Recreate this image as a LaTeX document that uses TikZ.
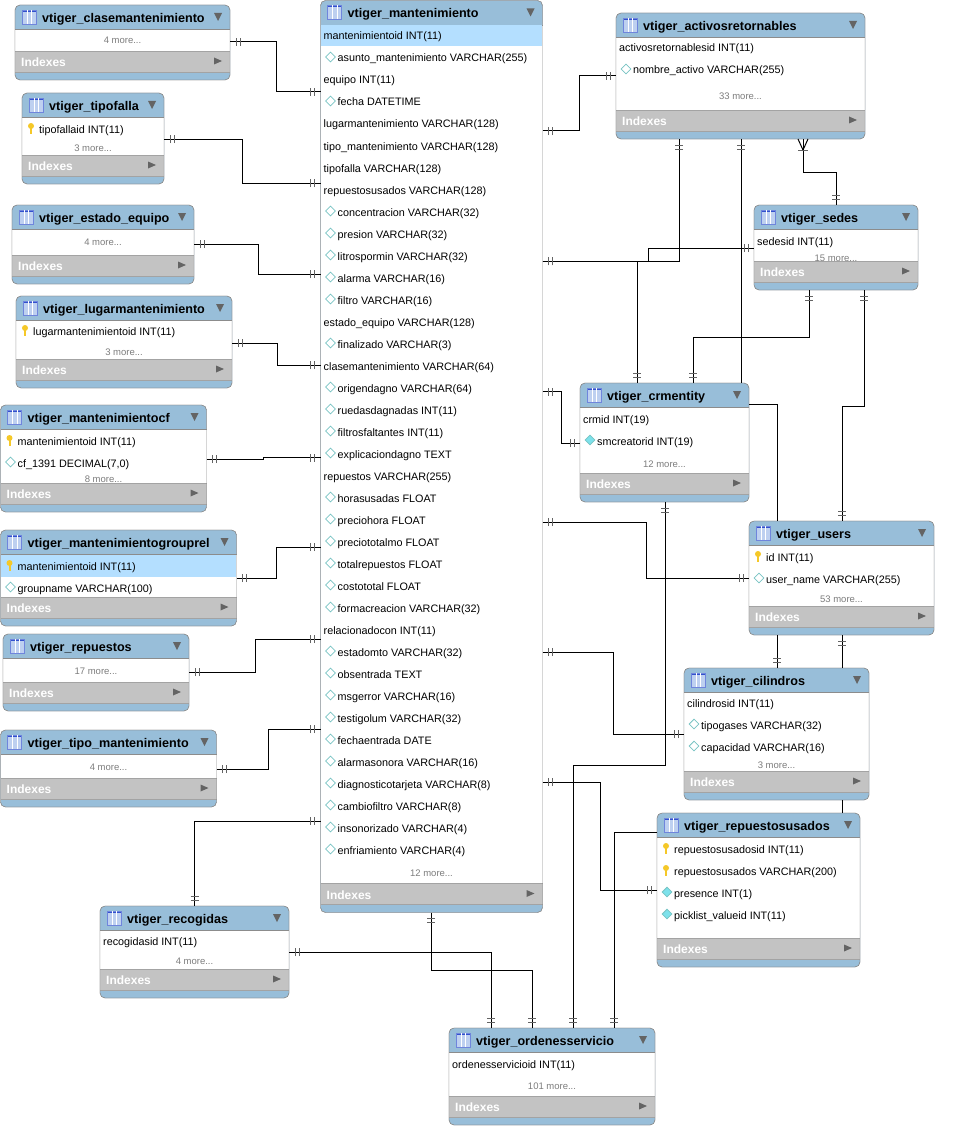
\documentclass[tikz,border=0pt]{standalone}
\usepackage{xcolor}
\usepackage{tikz}
\usepackage{fontspec}
\setmainfont{Liberation Sans}
\usetikzlibrary{shapes.geometric}
\usetikzlibrary{decorations.markings}
\definecolor{headblue} {RGB} {152, 190, 217}
\definecolor{bandgrey} {RGB} {195, 195, 195}
\definecolor{rowblue} {RGB} {180, 223, 255}
\definecolor{framegrey} {RGB} {140, 140, 140}
\definecolor{trigrey} {RGB} {100, 100, 100}
\definecolor{moregrey} {RGB} {125, 125, 125}
\definecolor{iconblue} {RGB} {50, 80, 205}
\definecolor{iconpale} {RGB} {190, 208, 240}
\definecolor{keygold} {RGB} {245, 200, 40}
\definecolor{diamline} {RGB} {120, 195, 195}
\definecolor{diamfill} {RGB} {125, 225, 235}
\tikzstyle{tablebox}=[draw=framegrey,fill=headblue,rounded corners=5pt,anchor=north west,inner sep=0pt,outer sep=0pt]
\tikzstyle{tabletitle}=[anchor=west,inner sep=0pt,text height=9pt,text depth=3pt,font=\fontsize{12.6}{14}\selectfont\bfseries]
\tikzstyle{fieldtext}=[anchor=west,inner sep=0pt,text height=8pt,text depth=2.4pt,font=\fontsize{10.8}{13}\selectfont]
\tikzstyle{moretext}=[inner sep=0pt,text height=7pt,text depth=0pt,text=moregrey,font=\fontsize{9.5}{12}\selectfont]
\tikzstyle{indexlabel}=[anchor=west,inner sep=0pt,text height=9pt,text depth=0pt,text=white,font=\fontsize{12}{13}\selectfont\bfseries]
\tikzstyle{plaindiam}=[diamond,draw=diamline,fill=white,line width=0.8pt,inner sep=0pt,minimum size=10pt]
\tikzstyle{fkdiam}=[diamond,draw=diamline,fill=diamfill,line width=0.8pt,inner sep=0pt,minimum size=10pt]
\tikzstyle{rel}=[line width=1pt,black]
\tikzstyle{tickline}=[line width=1pt,trigrey]
\tikzset{
  barstart/.style={rel,postaction={decorate,decoration={markings,
    mark=at position 6pt with {\draw[tickline] (0pt,-4pt) -- (0pt,4pt);},
    mark=at position 10pt with {\draw[tickline] (0pt,-4pt) -- (0pt,4pt);}}}},
  barend/.style={rel,postaction={decorate,decoration={markings,
    mark=at position -10pt with {\draw[tickline] (0pt,-4pt) -- (0pt,4pt);},
    mark=at position -6pt with {\draw[tickline] (0pt,-4pt) -- (0pt,4pt);}}}},
  crowstart/.style={rel,postaction={decorate,decoration={markings,
    mark=at position 11pt with {\draw[tickline] (0pt,-5pt) -- (0pt,5pt);
      \draw[rel] (0pt,0pt) -- (-11pt,-5pt); \draw[rel] (0pt,0pt) -- (-11pt,5pt);}}}}
}
\newcommand{\erbox}[6]{
  \node[tablebox,minimum width=#4pt,minimum height=#5pt] (#1) at (#2,#3) {};
  \fill[white] ([yshift=-24.5pt]#1.north west) rectangle ([yshift=29pt]#1.south east);
  \fill[bandgrey] ([yshift=29pt]#1.south west) rectangle ([yshift=8pt]#1.south east);
  \draw[framegrey] ([yshift=-24.5pt]#1.north west) -- ([yshift=-24.5pt]#1.north east);
  \draw[framegrey!80] ([yshift=29pt]#1.south west) -- ([yshift=29pt]#1.south east);
  \draw[framegrey!80] ([yshift=8pt]#1.south west) -- ([yshift=8pt]#1.south east);
  \draw[framegrey,rounded corners=5pt] (#1.north west) rectangle (#1.south east);
  \coordinate (#1-icon) at ([xshift=7pt,yshift=-5pt]#1.north west);
  \fill[iconpale] (#1-icon) rectangle ++(14,14);
  \fill[iconblue] (#1-icon) rectangle ++(14,2);
  \draw[iconblue!70!white,line width=0.5pt] (#1-icon) rectangle ++(14,14);
  \draw[white,line width=0.7pt] ([xshift=5pt]#1-icon) -- ++(0,14) ([xshift=9.5pt]#1-icon) -- ++(0,14);
  \node[tabletitle] (#1-title) at ([xshift=27pt,yshift=-14.5pt]#1.north west) {#6};
  \fill[trigrey] ([xshift=-16pt,yshift=-8pt]#1.north east) -- ++(8,0) -- ++(-4,8) -- cycle;
  \node[indexlabel] (#1-idx) at ([xshift=6pt,yshift=18pt]#1.south west) {Indexes};
  \fill[trigrey] ([xshift=-16pt,yshift=22.5pt]#1.south east) -- ++(8,3.5) -- ++(-8,3.5) -- cycle;
}
\newcommand{\iconnone}[2]{\def\fieldx{3pt}}
\newcommand{\icondiam}[2]{\def\fieldx{17pt}
  \node[plaindiam] (#2) at ([xshift=10pt,yshift=1pt]#1) {};}
\newcommand{\iconfk}[2]{\def\fieldx{17pt}
  \node[fkdiam] (#2) at ([xshift=10pt,yshift=1pt]#1) {};}
\newcommand{\iconkey}[2]{\def\fieldx{17pt}
  \fill[keygold] ([xshift=9pt,yshift=3pt]#1) circle (3pt);
  \fill[keygold] ([xshift=8pt,yshift=4pt]#1) rectangle ++(2,9);}
\newcommand{\erfield}[5]{
  \coordinate (#1-p#2) at (#1.west |- 0,#4);
  \csname icon#3\endcsname{#1-p#2}{#1-d#2}
  \node[fieldtext] (#1-f#2) at ([xshift=\fieldx,yshift=-1.2pt]#1-p#2) {#5};
}
\newcommand{\ermore}[3]{
  \node[moretext] (#1-more) at ([yshift=-1pt]#1.center |- 0,#2) {#3};
}
\newcommand{\hlrow}[3]{
  \fill[rowblue] ([xshift=0.5pt]#1.west |- 0,#2) rectangle ([xshift=-0.5pt]#1.east |- 0,#3);
}

\begin{document}
\begin{tikzpicture}[x=1pt,y=-1pt]
  \fill[white] (0,0) rectangle (954,1145);
  \useasboundingbox (0,0) rectangle (954,1145);
  \erbox{clase}{15}{5}{215}{75}{vtiger\_clasemantenimiento}
  \ermore{clase}{39}{4 more...}
  \erbox{falla}{22}{93}{142}{91}{vtiger\_tipofalla}
  \erfield{falla}{1}{key}{129}{tipofallaid INT(11)}
  \ermore{falla}{147}{3 more...}
  \erbox{estado}{12}{205}{182}{79}{vtiger\_estado\_equipo}
  \ermore{estado}{241}{4 more...}
  \erbox{lugar}{16}{296}{216}{92}{vtiger\_lugarmantenimiento}
  \erfield{lugar}{1}{key}{331}{lugarmantenimientoid INT(11)}
  \ermore{lugar}{351}{3 more...}
  \erbox{mantcf}{0.5}{405}{206}{107}{vtiger\_mantenimientocf}
  \erfield{mantcf}{1}{key}{441}{mantenimientoid INT(11)}
  \erfield{mantcf}{2}{diam}{463}{cf\_1391 DECIMAL(7,0)}
  \ermore{mantcf}{478}{8 more...}
  \erbox{group}{0.5}{530}{236}{96}{vtiger\_mantenimientogrouprel}
  \hlrow{group}{555}{577}
  \erfield{group}{1}{key}{566}{mantenimientoid INT(11)}
  \erfield{group}{2}{diam}{588}{groupname VARCHAR(100)}
  \erbox{repu}{3}{634}{186}{77}{vtiger\_repuestos}
  \ermore{repu}{670}{17 more...}
  \erbox{tipoman}{0.5}{730}{216}{77}{vtiger\_tipo\_mantenimiento}
  \ermore{tipoman}{766}{4 more...}
  \erbox{recog}{100}{906}{189}{92}{vtiger\_recogidas}
  \erfield{recog}{1}{none}{941}{recogidasid INT(11)}
  \ermore{recog}{960}{4 more...}
  \erbox{mant}{320.5}{0.5}{222}{912}{vtiger\_mantenimiento}
  \hlrow{mant}{25}{46}
  \foreach \kind/\txt [count=\i] in {
    none/mantenimientoid INT(11), diam/asunto\_mantenimiento VARCHAR(255),
    none/equipo INT(11), diam/fecha DATETIME,
    none/lugarmantenimiento VARCHAR(128), none/tipo\_mantenimiento VARCHAR(128),
    none/tipofalla VARCHAR(128), none/repuestosusados VARCHAR(128),
    diam/concentracion VARCHAR(32), diam/presion VARCHAR(32),
    diam/litrospormin VARCHAR(32), diam/alarma VARCHAR(16),
    diam/filtro VARCHAR(16), none/estado\_equipo VARCHAR(128),
    diam/finalizado VARCHAR(3), none/clasemantenimiento VARCHAR(64),
    diam/origendagno VARCHAR(64), diam/ruedasdagnadas INT(11),
    diam/filtrosfaltantes INT(11), diam/explicaciondagno TEXT,
    none/repuestos VARCHAR(255), diam/horasusadas FLOAT,
    diam/preciohora FLOAT, diam/preciototalmo FLOAT,
    diam/totalrepuestos FLOAT, diam/costototal FLOAT,
    diam/formacreacion VARCHAR(32), none/relacionadocon INT(11),
    diam/estadomto VARCHAR(32), diam/obsentrada TEXT,
    diam/msgerror VARCHAR(16), diam/testigolum VARCHAR(32),
    diam/fechaentrada DATE, diam/alarmasonora VARCHAR(16),
    diam/diagnosticotarjeta VARCHAR(8), diam/cambiofiltro VARCHAR(8),
    diam/insonorizado VARCHAR(4), diam/enfriamiento VARCHAR(4)}
  {
    \pgfmathsetmacro{\fy}{14+22*\i}
    \erfield{mant}{\i}{\kind}{\fy}{\txt}
  }
  \ermore{mant}{872}{12 more...}
  \erbox{activos}{616}{13}{249}{126}{vtiger\_activosretornables}
  \erfield{activos}{1}{none}{48}{activosretornablesid INT(11)}
  \erfield{activos}{2}{diam}{70}{nombre\_activo VARCHAR(255)}
  \ermore{activos}{95}{33 more...}
  \erbox{sedes}{754}{205}{164}{85}{vtiger\_sedes}
  \erfield{sedes}{1}{none}{241}{sedesid INT(11)}
  \ermore{sedes}{257}{15 more...}
  \erbox{crm}{580}{383}{169}{119}{vtiger\_crmentity}
  \erfield{crm}{1}{none}{419}{crmid INT(19)}
  \erfield{crm}{2}{fk}{441}{smcreatorid INT(19)}
  \ermore{crm}{463}{12 more...}
  \erbox{users}{749}{521}{185}{114}{vtiger\_users}
  \erfield{users}{1}{key}{557}{id INT(11)}
  \erfield{users}{2}{diam}{579}{user\_name VARCHAR(255)}
  \ermore{users}{598}{53 more...}
  \erbox{cilin}{684}{668}{185}{132}{vtiger\_cilindros}
  \erfield{cilin}{1}{none}{703}{cilindrosid INT(11)}
  \erfield{cilin}{2}{diam}{725}{tipogases VARCHAR(32)}
  \erfield{cilin}{3}{diam}{747}{capacidad VARCHAR(16)}
  \ermore{cilin}{764}{3 more...}
  \erbox{usados}{657}{813}{203}{154}{vtiger\_repuestosusados}
  \erfield{usados}{1}{key}{849}{repuestosusadosid INT(11)}
  \erfield{usados}{2}{key}{871}{repuestosusados VARCHAR(200)}
  \erfield{usados}{3}{fk}{893}{presence INT(1)}
  \erfield{usados}{4}{fk}{915}{picklist\_valueid INT(11)}
  \erbox{orden}{449}{1028}{206}{97}{vtiger\_ordenesservicio}
  \erfield{orden}{1}{none}{1064}{ordenesservicioid INT(11)}
  \ermore{orden}{1085}{101 more...}
  \draw[barstart,barend] (clase.east |- 0,42) -| (276,92) -- (mant.west |- 0,92);
  \draw[barstart,barend] (falla.east |- 0,139) -| (242,183) -- (mant.west |- 0,183);
  \draw[barstart,barend] (estado.east |- 0,244) -| (258,274) -- (mant.west |- 0,274);
  \draw[barstart,barend] (lugar.east |- 0,343) -| (277,365) -- (mant.west |- 0,365);
  \draw[barstart,barend] (mantcf.east |- 0,459) -| (263,457.5) -- (mant.west |- 0,457.5);
  \draw[barstart,barend] (group.east |- 0,578) -| (276,547) -- (mant.west |- 0,547);
  \draw[barstart,barend] (repu.east |- 0,672) -| (255,639) -- (mant.west |- 0,639);
  \draw[barstart,barend] (tipoman.east |- 0,769) -| (268,729) -- (mant.west |- 0,729);
  \draw[barstart,barend] (mant.west |- 0,821) -| (195,906 -| recog.north);
  \draw[barstart,barend] (mant.east |- 0,131) -| (579,76) -- (activos.west |- 0,76);
  \draw[barstart,barend] (mant.east |- 0,261) -| (679,0 |- activos.south);
  \draw[barstart,barend] (mant.east |- 0,261) -| (637,0 |- crm.north);
  \draw[barstart,barend] (mant.east |- 0,261) -| (648,248) -- (sedes.west |- 0,248);
  \draw[barstart] (741,0 |- activos.south) -- (741,0 |- crm.north);
  \draw[crowstart,barend] (803,0 |- activos.south) |- (836,172) -- (836,0 |- sedes.north);
  \draw[barstart,barend] (809,0 |- sedes.south) |- (693,337) -- (693,0 |- crm.north);
  \draw[barstart,barend] (864,0 |- sedes.south) |- (842,406) -- (842,0 |- users.north);
  \draw[barstart,barend] (mant.east |- 0,391.5) -| (561.5,443) -- (crm.west |- 0,443);
  \draw[rel] (crm.east |- 0,404) -| (777,0 |- users.north);
  \draw[barend] (777,0 |- users.south) -- (777,0 |- cilin.north);
  \draw[barstart] (842,0 |- users.south) -- (842,0 |- cilin.north);
  \draw[rel] (842,0 |- cilin.south) -- (842,0 |- usados.north);
  \draw[barstart,barend] (665,0 |- crm.south) |- (573,765) -- (573,0 |- orden.north);
  \draw[barstart,barend] (mant.east |- 0,522) -| (646,578) -- (users.west |- 0,578);
  \draw[barstart,barend] (mant.east |- 0,652) -| (613,734) -- (cilin.west |- 0,734);
  \draw[barstart,barend] (mant.east |- 0,782) -| (600,890) -- (usados.west |- 0,890);
  \draw[barend] (usados.west |- 0,832) -| (614,0 |- orden.north);
  \draw[barstart,barend] (431,0 |- mant.south) |- (532,970) -- (532,0 |- orden.north);
  \draw[barstart,barend] (recog.east |- 0,952) -| (491,0 |- orden.north);
\end{tikzpicture}
\end{document}
